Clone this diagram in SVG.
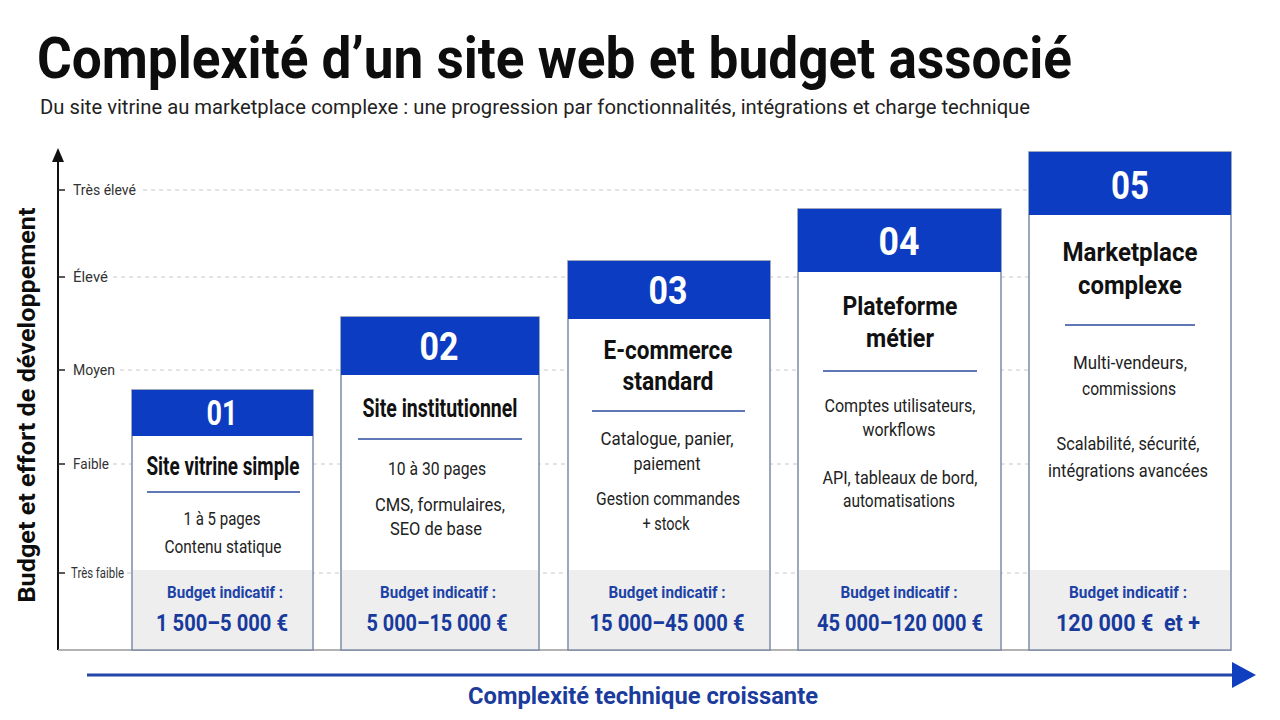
<svg xmlns="http://www.w3.org/2000/svg" width="1280" height="720" viewBox="0 0 1280 720">
<defs>
<style>
text{font-family:Roboto,"Liberation Sans",Arial,sans-serif;}
.t{font-weight:700;fill:#0d0d0d;}
.sub{font-size:21px;fill:#222;}
.lvl{font-size:15px;fill:#333;}
.dash{stroke:#c8c8c8;stroke-width:1;stroke-dasharray:4 4;}
.tick{stroke:#222;stroke-width:1.5;}
.card{fill:#fff;stroke:#7d8aa6;stroke-width:1.5;}
.hdr{fill:#0b3cc1;}
.band{fill:#eeeeef;}
.num{font-weight:700;fill:#fff;text-anchor:middle;}
.ct{font-weight:700;font-size:25px;fill:#111;text-anchor:middle;}
.sep{stroke:#2b4aa0;stroke-width:1.5;}
.bd{font-size:18px;fill:#222;text-anchor:middle;}
.bl{font-weight:700;font-size:16.5px;fill:#1d43a6;text-anchor:middle;}
.bv{font-weight:700;font-size:24px;fill:#173a9c;text-anchor:middle;}
</style>
</defs>
<rect width="1280" height="720" fill="#fff"/>
<text class="t" x="37" y="78" font-size="57" textLength="1035" lengthAdjust="spacingAndGlyphs">Complexité d’un site web et budget associé</text>
<text class="sub" x="40" y="114" textLength="990" lengthAdjust="spacingAndGlyphs">Du site vitrine au marketplace complexe : une progression par fonctionnalités, intégrations et charge technique</text>

<g id="axes">
<line class="dash" x1="143" y1="190" x2="1231" y2="190"/>
<line class="dash" x1="113" y1="277" x2="1231" y2="277"/>
<line class="dash" x1="120" y1="370" x2="1231" y2="370"/>
<line class="dash" x1="113" y1="464" x2="1231" y2="464"/>
<line class="dash" x1="127" y1="573" x2="1231" y2="573"/>
<line x1="58" y1="650" x2="58" y2="160" stroke="#111" stroke-width="2"/>
<polygon points="58,148 52,162 64,162" fill="#111"/>
<line x1="58" y1="650" x2="1231" y2="650" stroke="#999" stroke-width="1.5"/>
<line class="tick" x1="58" y1="190" x2="65" y2="190"/>
<line class="tick" x1="58" y1="277" x2="65" y2="277"/>
<line class="tick" x1="58" y1="370" x2="65" y2="370"/>
<line class="tick" x1="58" y1="464" x2="65" y2="464"/>
<line class="tick" x1="58" y1="573" x2="65" y2="573"/>
<text class="lvl" x="73" y="195" textLength="63" lengthAdjust="spacingAndGlyphs">Très élevé</text>
<text class="lvl" x="73" y="282" textLength="35" lengthAdjust="spacingAndGlyphs">Élevé</text>
<text class="lvl" x="73" y="375" textLength="42" lengthAdjust="spacingAndGlyphs">Moyen</text>
<text class="lvl" x="73" y="469" textLength="36" lengthAdjust="spacingAndGlyphs">Faible</text>
<text class="lvl" x="71" y="578" textLength="53" lengthAdjust="spacingAndGlyphs">Très faible</text>
<text class="t" font-size="24" transform="translate(35,405) rotate(-90)" text-anchor="middle" textLength="395" lengthAdjust="spacingAndGlyphs">Budget et effort de développement</text>
</g>

<g id="card1">
<rect class="card" x="132" y="390" width="181" height="260"/>
<rect class="hdr" x="132" y="390" width="181" height="46"/>
<rect class="band" x="133" y="570" width="179" height="79"/>
<text class="num" x="222" y="425" font-size="35" textLength="31" lengthAdjust="spacingAndGlyphs">01</text>
<text class="ct" x="223" y="475" textLength="153" lengthAdjust="spacingAndGlyphs">Site vitrine simple</text>
<line class="sep" x1="147" y1="492" x2="300" y2="492"/>
<text class="bd" x="222" y="525" textLength="77" lengthAdjust="spacingAndGlyphs">1 à 5 pages</text>
<text class="bd" x="223" y="553" textLength="117" lengthAdjust="spacingAndGlyphs">Contenu statique</text>
<text class="bl" x="225" y="598" textLength="116" lengthAdjust="spacingAndGlyphs">Budget indicatif :</text>
<text class="bv" x="222" y="631" textLength="132" lengthAdjust="spacingAndGlyphs">1 500–5 000 €</text>
</g>

<g id="card2">
<rect class="card" x="341" y="317" width="198" height="333"/>
<rect class="hdr" x="341" y="317" width="198" height="58"/>
<rect class="band" x="342" y="570" width="196" height="79"/>
<text class="num" x="439" y="360" font-size="39" textLength="39" lengthAdjust="spacingAndGlyphs">02</text>
<text class="ct" x="440" y="417" textLength="155" lengthAdjust="spacingAndGlyphs">Site institutionnel</text>
<line class="sep" x1="358" y1="439" x2="522" y2="439"/>
<text class="bd" x="437" y="475" textLength="98" lengthAdjust="spacingAndGlyphs">10 à 30 pages</text>
<text class="bd" x="440" y="511" textLength="130" lengthAdjust="spacingAndGlyphs">CMS, formulaires,</text>
<text class="bd" x="436" y="535" textLength="92" lengthAdjust="spacingAndGlyphs">SEO de base</text>
<text class="bl" x="438" y="598" textLength="116" lengthAdjust="spacingAndGlyphs">Budget indicatif :</text>
<text class="bv" x="437" y="631" textLength="141" lengthAdjust="spacingAndGlyphs">5 000–15 000 €</text>
</g>

<g id="card3">
<rect class="card" x="568" y="261" width="202" height="389"/>
<rect class="hdr" x="568" y="261" width="202" height="58"/>
<rect class="band" x="569" y="570" width="200" height="79"/>
<text class="num" x="668" y="304" font-size="39" textLength="39" lengthAdjust="spacingAndGlyphs">03</text>
<text class="ct" x="668" y="359" textLength="129" lengthAdjust="spacingAndGlyphs">E-commerce</text>
<text class="ct" x="668" y="390" textLength="91" lengthAdjust="spacingAndGlyphs">standard</text>
<line class="sep" x1="592" y1="411" x2="745" y2="411"/>
<text class="bd" x="667" y="445" textLength="133" lengthAdjust="spacingAndGlyphs">Catalogue, panier,</text>
<text class="bd" x="667" y="470" textLength="67" lengthAdjust="spacingAndGlyphs">paiement</text>
<text class="bd" x="668" y="505" textLength="144" lengthAdjust="spacingAndGlyphs">Gestion commandes</text>
<text class="bd" x="666" y="530" textLength="47" lengthAdjust="spacingAndGlyphs">+ stock</text>
<text class="bl" x="667" y="598" textLength="117" lengthAdjust="spacingAndGlyphs">Budget indicatif :</text>
<text class="bv" x="667" y="631" textLength="155" lengthAdjust="spacingAndGlyphs">15 000–45 000 €</text>
</g>

<g id="card4">
<rect class="card" x="798" y="209" width="203" height="441"/>
<rect class="hdr" x="798" y="209" width="203" height="63"/>
<rect class="band" x="799" y="570" width="201" height="79"/>
<text class="num" x="899" y="255" font-size="39" textLength="41" lengthAdjust="spacingAndGlyphs">04</text>
<text class="ct" x="900" y="315" textLength="115" lengthAdjust="spacingAndGlyphs">Plateforme</text>
<text class="ct" x="900" y="347" textLength="68" lengthAdjust="spacingAndGlyphs">métier</text>
<line class="sep" x1="823" y1="371" x2="977" y2="371"/>
<text class="bd" x="900" y="412" textLength="151" lengthAdjust="spacingAndGlyphs">Comptes utilisateurs,</text>
<text class="bd" x="899" y="436" textLength="73" lengthAdjust="spacingAndGlyphs">workflows</text>
<text class="bd" x="900" y="484" textLength="155" lengthAdjust="spacingAndGlyphs">API, tableaux de bord,</text>
<text class="bd" x="899" y="507" textLength="112" lengthAdjust="spacingAndGlyphs">automatisations</text>
<text class="bl" x="899" y="598" textLength="117" lengthAdjust="spacingAndGlyphs">Budget indicatif :</text>
<text class="bv" x="900" y="631" textLength="166" lengthAdjust="spacingAndGlyphs">45 000–120 000 €</text>
</g>

<g id="card5">
<rect class="card" x="1029" y="152" width="202" height="498"/>
<rect class="hdr" x="1029" y="152" width="202" height="63"/>
<rect class="band" x="1030" y="570" width="200" height="79"/>
<text class="num" x="1130" y="199" font-size="39" textLength="38" lengthAdjust="spacingAndGlyphs">05</text>
<text class="ct" x="1130" y="261" textLength="135" lengthAdjust="spacingAndGlyphs">Marketplace</text>
<text class="ct" x="1130" y="294" textLength="104" lengthAdjust="spacingAndGlyphs">complexe</text>
<line class="sep" x1="1065" y1="325" x2="1195" y2="325"/>
<text class="bd" x="1130" y="369" textLength="114" lengthAdjust="spacingAndGlyphs">Multi-vendeurs,</text>
<text class="bd" x="1129" y="395" textLength="94" lengthAdjust="spacingAndGlyphs">commissions</text>
<text class="bd" x="1128" y="450" textLength="143" lengthAdjust="spacingAndGlyphs">Scalabilité, sécurité,</text>
<text class="bd" x="1128" y="477" textLength="160" lengthAdjust="spacingAndGlyphs">intégrations avancées</text>
<text class="bl" x="1128" y="598" textLength="118" lengthAdjust="spacingAndGlyphs">Budget indicatif :</text>
<text class="bv" x="1128" y="631" textLength="144" lengthAdjust="spacingAndGlyphs" style="white-space:pre">120 000 €  et +</text>
</g>

<g id="connectors">
<line x1="87" y1="675" x2="1234" y2="675" stroke="#2346a8" stroke-width="3"/>
<polygon points="1232,662 1256,675 1232,688" fill="#0f3fbf"/>
<text x="643" y="704" font-weight="700" font-size="24" fill="#1b3c9c" text-anchor="middle" textLength="350" lengthAdjust="spacingAndGlyphs">Complexité technique croissante</text>
</g>
</svg>
